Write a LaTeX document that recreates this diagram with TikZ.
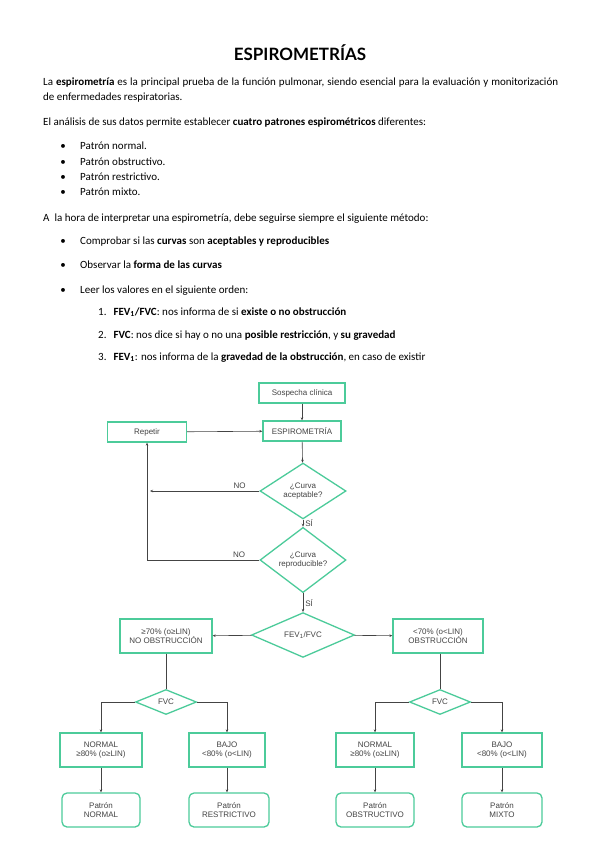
\documentclass[tikz,border=0pt]{standalone}
\usepackage{fontspec}
\setmainfont{Carlito}
\newfontfamily\titlefont{Lato}
\newfontfamily\flowfont{Liberation Sans}
\usepackage{xcolor}
\usetikzlibrary{arrows.meta,positioning,calc,shapes.geometric}
\definecolor{verde}{HTML}{4CCB9A}
\definecolor{linea}{HTML}{444444}
\definecolor{texto}{HTML}{444444}
\begin{document}
\begin{tikzpicture}[x=1pt,y=-1pt,
      txt/.style={anchor=base west,inner sep=0pt,font=\fontsize{11}{13}\selectfont},
      bullet/.style={anchor=base west,inner sep=0pt,font=\fontsize{11}{13}\selectfont},
      punto/.style={anchor=base,inner sep=0pt,font=\fontsize{11}{13}\selectfont},
      caja/.style={rectangle,draw=verde,line width=1.3pt,inner sep=1pt,align=center,text=texto,font=\flowfont\fontsize{8}{9.5}\selectfont},
      fin/.style={caja,rounded corners=5pt},
      rombo/.style={diamond,draw=verde,line width=1.3pt,inner sep=0pt,align=center,text=texto,font=\flowfont\fontsize{8}{9.5}\selectfont},
      arr/.style={draw=linea,line width=0.6pt,-{Stealth[length=3pt,width=2.5pt]}},
      lin/.style={draw=linea,line width=0.6pt},
      etq/.style={font=\flowfont\fontsize{8}{9.5}\selectfont,text=texto,inner sep=2pt}]
    \useasboundingbox[fill=white] (0,0) rectangle (599,848);
    % cabecera
    \node[anchor=base,inner sep=0pt,font=\titlefont\bfseries\fontsize{17}{20}\selectfont] (titulo) at (300,61) {ESPIROMETRÍAS};
    \node[txt] (p1a) at (43,86) {\makebox[515pt][s]{La \textbf{espirometría} es la principal prueba de la función pulmonar, siendo esencial para la evaluación y monitorización}};
    \node[txt] (p1b) at (43,101) {de enfermedades respiratorias.};
    \node[txt] (p2) at (43,125) {El análisis de sus datos permite establecer \textbf{cuatro patrones espirométricos} diferentes:};
    \foreach \t [count=\i] in {Patrón normal., Patrón obstructivo., Patrón restrictivo., Patrón mixto.} {
      \node[bullet] (b\i) at (80,{134.5+\i*15.3}) {\t};
      \node[punto] (d\i) at (63,{134.5+\i*15.3}) {\textbullet};
    }
    \node[txt] (p3) at (43,221) {A\ \ la hora de interpretar una espirometría, debe seguirse siempre el siguiente método:};
    \node[bullet] (m1) at (80,244) {Comprobar si las \textbf{curvas} son \textbf{aceptables y reproducibles}};
    \node[bullet] (m2) at (80,268) {Observar la \textbf{forma de las curvas}};
    \node[bullet] (m3) at (80,293) {Leer los valores en el siguiente orden:};
    \foreach \y/\n in {244/1,268/2,293/3} {
      \node[punto] (dm\n) at (63,\y) {\textbullet};
    }
    \node[bullet] (o1) at (98,315) {1.\hspace{7pt}\textbf{FEV\textsubscript{1}/FVC}: nos informa de si \textbf{existe o no obstrucción}};
    \node[bullet] (o2) at (98,338) {2.\hspace{7pt}\textbf{FVC}: nos dice si hay o no una \textbf{posible restricción}, y \textbf{su gravedad}};
    \node[bullet] (o3) at (98,360) {3.\hspace{7pt}\textbf{FEV\textsubscript{1}}: nos informa de la \textbf{gravedad de la obstrucción}, en caso de existir};
    % diagrama
    \node[caja,minimum width=86pt,minimum height=20pt] (sos) at (302,393) {Sospecha clínica};
    \node[caja,minimum width=78pt,minimum height=20pt] (esp) at (302,431) {ESPIROMETRÍA};
    \node[caja,minimum width=79pt,minimum height=20pt] (rep) at (147,432) {Repetir};
    \node[rombo,minimum width=86pt,minimum height=44pt] (acep) at (303,491) {¿Curva\\aceptable?};
    \node[rombo,minimum width=86pt,minimum height=44pt] (repr) at (303,560) {¿Curva\\reproducible?};
    \node[rombo,minimum width=103pt,minimum height=44pt] (fev) at (303,635) {FEV\textsubscript{1}/FVC};
    \node[caja,minimum width=92pt,minimum height=34pt] (noob) at (166,636) {≥70\% (o≥LIN)\\NO OBSTRUCCIÓN};
    \node[caja,minimum width=90pt,minimum height=34pt] (obs) at (438,636) {<70\% (o<LIN)\\OBSTRUCCIÓN};
    \node[rombo,minimum width=61pt,minimum height=25pt] (fvcA) at (166,702) {FVC};
    \node[rombo,minimum width=61pt,minimum height=25pt] (fvcB) at (440,702) {FVC};
    \node[caja,minimum width=82pt,minimum height=34pt] (norA) at (101,750) {NORMAL\\≥80\% (o≥LIN)};
    \node[caja,minimum width=76pt,minimum height=34pt] (bajA) at (227,750) {BAJO\\<80\% (o<LIN)};
    \node[caja,minimum width=78pt,minimum height=34pt] (norB) at (375,750) {NORMAL\\≥80\% (o≥LIN)};
    \node[caja,minimum width=80pt,minimum height=34pt] (bajB) at (502,750) {BAJO\\<80\% (o<LIN)};
    \node[fin,minimum width=78pt,minimum height=34pt] (patN) at (101,810) {Patrón\\NORMAL};
    \node[fin,minimum width=80pt,minimum height=34pt] (patR) at (229,810) {Patrón\\RESTRICTIVO};
    \node[fin,minimum width=78pt,minimum height=34pt] (patO) at (375,810) {Patrón\\OBSTRUCTIVO};
    \node[fin,minimum width=80pt,minimum height=34pt] (patM) at (502,810) {Patrón\\MIXTO};
    % conectores
    \draw[arr] (sos) -- (esp);
    \draw[arr] (rep) -- (esp);
    \draw[arr] (esp) -- (acep);
    \coordinate (vuelta1) at ($(rep.south |- acep.west)+(3,0)$);
    \coordinate (vuelta2) at (rep.south |- repr.west);
    \draw[arr] (acep.west) -- node[etq,pos=0.18,above] {NO} (vuelta1);
    \draw[arr] (repr.west) -- node[etq,pos=0.18,above] {NO} (vuelta2) -- (rep.south);
    \draw[arr] (acep) -- node[etq,right] {SÍ} (repr);
    \draw[arr] (repr) -- node[etq,right] {SÍ} (fev);
    \draw[arr] (fev) -- (noob);
    \draw[arr] (fev) -- (obs);
    \draw[lin] (noob) -- (fvcA);
    \draw[lin] (obs.south -| fvcB.north) -- (fvcB);
    \draw[arr] (fvcA.west) -| (norA);
    \draw[arr] (fvcA.east) -| (bajA);
    \draw[arr] (fvcB.west) -| (norB);
    \draw[arr] (fvcB.east) -| (bajB);
    \draw[arr] (norA) -- (patN);
    \draw[arr] (bajA.south) -- (bajA.south |- patR.north);
    \draw[arr] (norB) -- (patO);
    \draw[arr] (bajB) -- (patM);
\end{tikzpicture}
\end{document}
